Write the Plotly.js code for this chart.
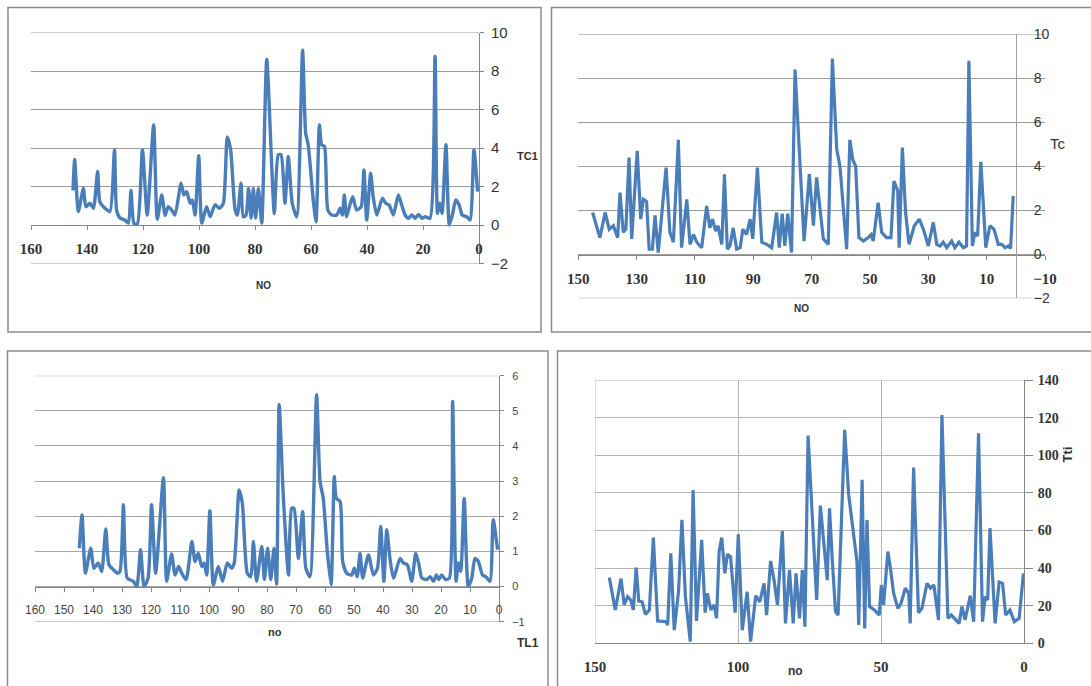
<!DOCTYPE html>
<html>
<head>
<meta charset="utf-8">
<script src="https://cdn.plot.ly/plotly-3.0.1.min.js"></script>
<style>
html,body{margin:0;padding:0;background:#fff;}
#chart{width:1091px;height:686px;}
</style>
</head>
<body>
<div id="chart"></div>
<script>
// ---- data: [NO, value] ----
const tc1 = [[145,1.8],[144.4,3.4],[143.1,0.7],[141.3,1.9],[140.4,0.95],[138.9,1.13],[137.7,0.87],[136.2,2.78],[135.4,1.2],[133.6,0.87],[131.8,0.7],[130.2,3.9],[129.4,0.75],[128.2,0.36],[126.4,0.25],[125.2,0.1],[124.3,1.8],[123.2,0.06],[122,0.06],[120.2,3.9],[118.5,0.52],[116.2,5.2],[114.9,0.3],[113.3,1.56],[112.1,0.5],[111,0.95],[109.8,0.78],[108.6,0.52],[106.4,2.17],[105.4,1.56],[104.4,1.73],[103.2,1.13],[102.4,1.3],[101.4,0.52],[100.1,3.6],[99,0.1],[97.3,0.95],[96,0.43],[94.3,1.05],[92.7,0.87],[91.3,1.13],[89.9,4.57],[88.7,3.9],[87.1,0.78],[86.3,0.52],[85,2.17],[84.2,0.43],[83.2,0.52],[82.3,1.9],[81.4,0.36],[80.6,1.9],[79.8,0.36],[78.8,1.9],[77.6,0.1],[75.8,8.6],[73.1,0.6],[71.7,3.65],[70.7,3.65],[69.3,1.13],[68.1,3.56],[66.7,1.13],[65.1,0.43],[63,9.08],[61.9,4.77],[61,4.17],[59.2,1.3],[58.2,0.17],[57,5.2],[56.2,4.17],[55.2,4.08],[54,0.78],[52.6,0.52],[50.8,0.52],[49.6,0.87],[48.8,0.52],[48.1,1.56],[47.3,0.43],[46.1,1.04],[45.1,1.47],[43.7,0.78],[42.1,0.95],[41.1,2.86],[40.1,0.26],[38.7,2.69],[37.8,1.47],[36.5,0.52],[34.5,1.39],[33.3,1.13],[32.1,1.04],[30.6,0.52],[28.8,1.56],[27.6,1.04],[26.4,0.52],[25.2,0.35],[24,0.52],[22.8,0.35],[21.6,0.55],[20.4,0.35],[19.2,0.43],[17.5,0.35],[15.7,8.77],[14.8,0.6],[14,1.13],[13.2,0.6],[11.8,4.17],[10.6,0.0],[9.4,0.6],[8.3,1.3],[7.1,1.04],[6,0.52],[4.4,0.43],[3.2,0.26],[1.8,3.9],[0.5,1.73]];

const tc = [[145.1,1.9],[142.6,0.76],[140.8,1.9],[139.4,1.14],[138,1.3],[136.5,0.76],[135.7,2.8],[134.6,1.0],[133.7,1.14],[132.6,4.4],[131.7,0.7],[129.8,4.7],[128.6,1.6],[127.7,2.5],[126.6,2.4],[125.7,0.23],[124.6,0.23],[123.7,1.77],[122.6,0.08],[121.5,1.55],[119.9,3.94],[118.6,1.0],[117.4,0.55],[115.7,5.2],[114.6,0.3],[112.8,2.5],[111.7,0.45],[110.5,0.9],[109.4,0.55],[107.7,0.3],[106,2.2],[104.9,1.2],[104,1.6],[102.9,1.05],[102.1,1.3],[100.8,0.45],[99.9,3.64],[98.9,0.23],[98,0.38],[96.9,1.2],[95.7,0.23],[94.5,0.3],[93.6,1.14],[92.3,0.9],[91.1,1.6],[90.2,0.7],[88.6,3.94],[87.1,0.55],[85.4,0.45],[83.7,0.3],[82,1.9],[81.1,0.3],[80.1,1.85],[79.2,0.38],[78.2,1.85],[76.9,0.08],[75.7,8.4],[72.6,0.6],[70.8,3.64],[69.4,1.3],[68.3,3.5],[66,0.7],[64.3,0.45],[62.9,8.9],[61.4,4.77],[60.3,4.0],[58,0.23],[56.9,5.2],[55.9,4.3],[54.9,4.0],[53.8,0.76],[52.3,0.6],[50.6,0.76],[49.6,0.9],[48.9,0.6],[47.2,2.35],[46,1.0],[44.3,0.76],[42.8,0.76],[41.8,3.33],[40.5,2.9],[40,0.3],[38.9,4.85],[37.8,1.9],[36.6,0.45],[34.8,1.3],[33.1,1.6],[31.7,1.14],[30,0.38],[28.3,1.45],[27.1,0.45],[26,0.38],[24.9,0.55],[23.7,0.3],[22,0.6],[20.9,0.3],[19.5,0.55],[18,0.3],[16.9,0.38],[16.1,8.8],[14.9,0.38],[14,1.0],[13.1,0.83],[12,4.2],[10.3,0.3],[8.9,1.3],[7.5,1.14],[6,0.45],[4.8,0.45],[3.7,0.3],[2.6,0.38],[1.8,0.27],[0.9,2.65]];

const tl1 = [[144.7,1.09],[143.8,2.04],[142.6,0.38],[140.8,1.09],[139.7,0.52],[138.2,0.67],[137,0.43],[135.6,1.64],[134.5,0.62],[133,0.48],[131.6,0.38],[130.7,0.43],[129.5,2.33],[128.2,0.24],[126.1,0.15],[124.9,0.0],[123.6,1.05],[122.4,0.0],[121,0.24],[119.8,2.33],[118.4,0.38],[115.7,3.1],[114.6,0.15],[112.9,0.93],[111.7,0.33],[110.5,0.57],[109.4,0.38],[107.9,0.2],[105.9,1.28],[104.8,0.71],[103.7,0.95],[102.5,0.57],[101.7,0.67],[100.8,0.33],[99.7,2.16],[98.5,0.05],[96.8,0.57],[95.3,0.15],[93.7,0.67],[92.2,0.52],[91.3,0.67],[89.6,2.75],[88.5,2.37],[86.8,0.38],[85.6,0.28],[84.7,1.28],[83.6,0.15],[81.8,1.14],[80.9,0.2],[79.8,1.09],[78.7,0.2],[77.6,1.09],[76.7,0.07],[75.8,5.18],[74.4,2.6],[72.6,0.33],[71.5,2.23],[70.7,2.23],[69.2,0.8],[67.7,2.13],[66.6,0.52],[65.2,0.28],[62.9,5.46],[61.7,2.99],[60.6,2.51],[59.2,0.99],[57.9,0.05],[56.8,3.13],[56.1,2.51],[54.8,2.42],[53.9,0.71],[52.5,0.38],[50.8,0.33],[49.9,0.52],[48.9,0.28],[47.9,0.95],[47,0.24],[45,0.9],[43.3,0.33],[41.9,0.52],[40.8,1.71],[39.7,0.15],[38.7,1.62],[37.6,0.8],[36.4,0.24],[34.1,0.8],[33,0.67],[31.6,0.62],[30.1,0.15],[28.7,0.95],[27.6,0.62],[26.6,0.24],[24.9,0.2],[23.7,0.28],[22.6,0.15],[21.6,0.33],[20.8,0.2],[19.8,0.33],[18.4,0.2],[17.1,0.24],[16,5.27],[14.8,0.15],[14,0.67],[13.2,0.43],[12,2.51],[10.6,0.0],[9.4,0.24],[8.3,0.8],[7.1,0.71],[5.7,0.33],[4.5,0.28],[3.1,0.15],[2,1.9],[0.5,1.05]];

const tti = [[145,34.9],[142.9,17.7],[140.9,34.4],[139.8,20.4],[138.6,24.8],[137.5,23],[136.6,17.7],[135.6,40.2],[134.7,22.5],[133.5,22],[132.4,15.4],[131,17.7],[129.6,56.2],[128.1,11.9],[125.2,11.5],[124.6,9.7],[123.5,47.9],[122.3,7],[120.8,27.4],[119.6,65.6],[118.4,24.8],[116.7,0.9],[115.7,81.5],[114.5,11.9],[112.7,55],[111.5,16.3],[110.7,26.6],[109.5,17.7],[108.4,20.4],[107.5,13.3],[106.6,48.8],[105.7,56.2],[104.6,37.2],[103.7,47.3],[102.6,46],[101,16.3],[99.9,58],[98.5,7],[96.8,27.4],[95.6,0.9],[93.8,25.3],[92.4,22],[90.9,31.9],[90,15],[88.6,43.8],[87.4,33.6],[86.2,20.4],[84.5,59.7],[83.4,10.6],[82,39],[80.7,10.6],[79.7,37.2],[78.5,13.3],[77.5,39],[76.6,8.8],[75.5,110.4],[72.5,23],[71.2,73.2],[68.8,33.6],[68,71.8],[67,43.4],[65.9,16.8],[65,15],[62.7,113.5],[61.3,78.9],[59.5,55.8],[58.4,43.4],[57.8,9.7],[56.6,86.9],[55.7,7.9],[54.9,65.6],[54,19.5],[52.3,17.7],[50.6,15],[49.9,31],[49.1,20.4],[47.6,48.8],[46.7,39.9],[45.6,26.6],[44.1,18.6],[43,21.3],[41.5,29.3],[40.3,26.6],[39.8,10.6],[38.6,93.4],[36.9,16.3],[35.7,18.6],[33.9,31.9],[32.7,29.3],[31.5,31],[29.9,12.4],[28.7,121.4],[26.6,13.3],[25.4,15],[24,12.4],[22.7,10.6],[21.7,19.5],[20.6,12.4],[18.8,25.3],[17.6,11.5],[15.9,111.7],[14.5,11.5],[13.6,24.8],[12.7,23],[11.9,61.2],[10.1,10.6],[8.7,32.6],[7.5,31.9],[6.4,15],[4.9,17.7],[3.4,11.5],[1.7,13.3],[0.2,37.2]];

const axisTitles = {p1x:'NO', p1y:'TC1', p2x:'NO', p2y:'Tc', p3x:'no', p3y:'TL1', p4x:'no', p4y:'Tti'};

// axis ranges of the four panels
const xr1 = [160, 0], yr1 = [-2, 10];
const xr2 = [150, -10], yr2 = [-2, 10];
const xr3 = [160, 0], yr3 = [-1, 6];
const xr4 = [150, 0], yr4 = [0, 140];

// ---- layout helpers ----
const W = 1091, H = 686;
const fx = px => px / W;
const fy = py => 1 - py / H;

const BLUE = '#4A7EBB';
function tr(data, xa, ya, shape, w) {
  return {
    x: data.map(d => d[0]), y: data.map(d => d[1]),
    xaxis: xa, yaxis: ya, type: 'scatter', mode: 'lines',
    line: {color: BLUE, width: w, shape: shape, smoothing: 0.6},
    hoverinfo: 'skip', showlegend: false
  };
}

const traces = [
  tr(tc1, 'x', 'y', 'spline', 3.4),
  tr(tc, 'x2', 'y2', 'linear', 3.2),
  tr(tl1, 'x3', 'y3', 'spline', 3.4),
  tr(tti, 'x4', 'y4', 'linear', 3.2)
];

const AX = '#868686';
const GRID = '#9c9c9c';
const boldSerif = (s) => ({family: 'Liberation Serif, serif', size: s, color: '#333', weight: 'bold'});
const sans = (s) => ({family: 'Liberation Sans, Arial, sans-serif', size: s, color: '#333'});

// edge gridlines that plotly omits at range ends
function hline(xa, ya, xr, yv, color) {
  return {type: 'line', xref: xa, yref: ya, x0: xr[0], x1: xr[1], y0: yv, y1: yv, line: {color: color, width: 1}, layer: 'below'};
}
function vline(xa, ya, yr, xv, color) {
  return {type: 'line', xref: xa, yref: ya, x0: xv, x1: xv, y0: yr[0], y1: yr[1], line: {color: color, width: 1}, layer: 'below'};
}

const layout = {
  width: W, height: H,
  margin: {l: 0, r: 0, t: 0, b: 0},
  paper_bgcolor: '#fff', plot_bgcolor: 'rgba(0,0,0,0)',
  showlegend: false,
  // panel 1
  xaxis: {domain: [fx(31), fx(479)], range: xr1, anchor: 'free', position: fy(225),
    tick0: 0, dtick: 20, showgrid: false, zeroline: false, showline: true, linecolor: AX, linewidth: 1,
    ticks: 'outside', ticklen: 4, tickcolor: AX, ticklabelstandoff: 6,
    tickfont: boldSerif(15)},
  yaxis: {domain: [fy(263.5), fy(32.5)], range: yr1, anchor: 'x', side: 'right',
    tick0: 0, dtick: 2, showgrid: true, gridcolor: GRID, gridwidth: 1, zeroline: false,
    showline: true, linecolor: AX, ticks: 'outside', ticklen: 4, tickcolor: AX, ticklabelstandoff: 4,
    tickfont: sans(15)},
  // panel 2
  xaxis2: {domain: [fx(578.3), fx(1045)], range: xr2, anchor: 'free', position: fy(255),
    tick0: 150, dtick: 20, showgrid: false, zeroline: false, showline: true, linecolor: AX,
    ticks: 'outside', ticklen: 4, tickcolor: AX, ticklabelstandoff: 6,
    tickfont: boldSerif(15)},
  yaxis2: {domain: [fy(298.3), fy(34.3)], range: yr2, anchor: 'free', position: fx(1016), side: 'right',
    tick0: 0, dtick: 2, showgrid: true, gridcolor: GRID, gridwidth: 1, zeroline: false,
    showline: true, linecolor: '#a0a0a0', ticks: '', ticklabelstandoff: 14,
    tickfont: sans(14)},
  // panel 3
  xaxis3: {domain: [fx(35), fx(499)], range: xr3, anchor: 'free', position: fy(586.7),
    tick0: 0, dtick: 10, showgrid: false, zeroline: false, showline: true, linecolor: AX,
    ticks: 'outside', ticklen: 4, tickcolor: AX, ticklabelstandoff: 8,
    tickfont: Object.assign(sans(12), {color: '#444'})},
  yaxis3: {domain: [fy(621.7), fy(375.7)], range: yr3, anchor: 'x3', side: 'right',
    tick0: 0, dtick: 1, showgrid: true, gridcolor: '#a6a6a6', gridwidth: 1, zeroline: false,
    showline: true, linecolor: AX, ticks: 'outside', ticklen: 4, tickcolor: AX, ticklabelstandoff: 6,
    tickfont: Object.assign(sans(11), {color: '#444'})},
  // panel 4
  xaxis4: {domain: [fx(595), fx(1024)], range: xr4, anchor: 'y4',
    tick0: 0, dtick: 50, showgrid: true, gridcolor: '#b4b4b4', gridwidth: 1, zeroline: false,
    showline: true, linecolor: AX, ticks: '', ticklabelstandoff: 10,
    tickfont: boldSerif(15)},
  yaxis4: {domain: [fy(643.3), fy(380)], range: yr4, anchor: 'x4', side: 'right',
    tick0: 0, dtick: 20, showgrid: true, gridcolor: '#b4b4b4', gridwidth: 1, zeroline: false,
    showline: true, linecolor: AX, ticks: 'outside', ticklen: 8, tickcolor: AX, ticklabelstandoff: 2,
    tickfont: boldSerif(14)},
  shapes: [
    {type: 'rect', xref: 'paper', yref: 'paper', x0: fx(8), x1: fx(541), y0: fy(332), y1: fy(7.5), line: {color: '#8c8c8c', width: 1.5}},
    {type: 'rect', xref: 'paper', yref: 'paper', x0: fx(551.5), x1: 1.01, y0: fy(332), y1: fy(7.5), line: {color: '#8c8c8c', width: 1.5}},
    {type: 'rect', xref: 'paper', yref: 'paper', x0: fx(7.5), x1: fx(548), y0: -0.02, y1: fy(351), line: {color: '#8c8c8c', width: 1.5}},
    {type: 'rect', xref: 'paper', yref: 'paper', x0: fx(557.5), x1: 1.01, y0: -0.02, y1: fy(351), line: {color: '#8c8c8c', width: 1.5}},
    hline('x', 'y', xr1, yr1[1], GRID), hline('x', 'y', xr1, yr1[0], GRID),
    hline('x2', 'y2', xr2, yr2[1], GRID), hline('x2', 'y2', xr2, yr2[0], GRID),
    hline('x3', 'y3', xr3, yr3[1], '#a6a6a6'), hline('x3', 'y3', xr3, yr3[0], '#a6a6a6'),
    hline('x4', 'y4', xr4, yr4[1], '#b4b4b4'), vline('x4', 'y4', yr4, xr4[0], '#b4b4b4')
  ],
  annotations: [
    {text: axisTitles.p1x, xref: 'paper', yref: 'paper', x: fx(254), y: fy(285), showarrow: false, font: {family: 'Liberation Sans', size: 10, color: '#333', weight: 'bold'}},
    {text: axisTitles.p1y, xref: 'paper', yref: 'paper', x: fx(527), y: fy(148), showarrow: false, font: {family: 'Liberation Sans', size: 11, color: '#333', weight: 'bold'}},
    {text: axisTitles.p2x, xref: 'paper', yref: 'paper', x: fx(811), y: fy(308), showarrow: false, font: {family: 'Liberation Sans', size: 10, color: '#333', weight: 'bold'}},
    {text: axisTitles.p2y, xref: 'paper', yref: 'paper', x: fx(1068), y: fy(133), showarrow: false, font: {family: 'Liberation Sans', size: 15, color: '#333'}},
    {text: axisTitles.p3x, xref: 'paper', yref: 'paper', x: fx(266), y: fy(640), showarrow: false, font: {family: 'Liberation Sans', size: 11, color: '#333', weight: 'bold'}},
    {text: axisTitles.p3y, xref: 'paper', yref: 'paper', x: fx(528), y: fy(652), showarrow: false, font: {family: 'Liberation Sans', size: 12, color: '#333', weight: 'bold'}},
    {text: axisTitles.p4x, xref: 'paper', yref: 'paper', x: fx(805), y: fy(680), showarrow: false, font: {family: 'Liberation Sans', size: 12, color: '#333', weight: 'bold'}},
    {text: axisTitles.p4y, xref: 'paper', yref: 'paper', x: fx(1076), y: fy(455), showarrow: false, textangle: -90, font: {family: 'Liberation Sans', size: 13, color: '#333', weight: 'bold'}}
  ]
};

Plotly.newPlot('chart', traces, layout, {staticPlot: true, displayModeBar: false});
</script>
</body>
</html>
